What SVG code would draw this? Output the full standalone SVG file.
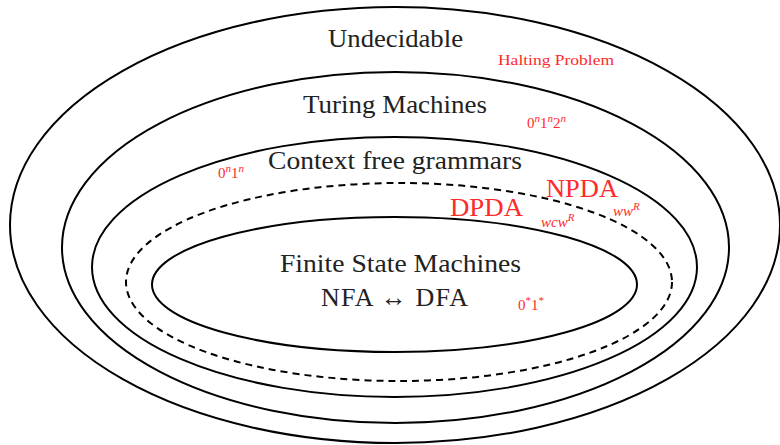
<svg xmlns="http://www.w3.org/2000/svg" width="780" height="445" viewBox="0 0 780 445">
<style>
.e{fill:none;stroke:#000;stroke-width:2}
.d{fill:none;stroke:#000;stroke-width:2;stroke-dasharray:7,5}
.t{font-family:"Liberation Serif","DejaVu Serif",serif;fill:#222;font-size:26px}
.r{font-family:"Liberation Serif","DejaVu Serif",serif;fill:#ff2a2a}
.i{font-style:italic}
</style>
<rect width="780" height="445" fill="#fff"/>
<g id="undecidable">
<ellipse class="e" cx="395" cy="225" rx="385" ry="218"/>
<text class="t" x="328" y="47" textLength="135" lengthAdjust="spacingAndGlyphs">Undecidable</text>
<text class="r" x="498" y="65" font-size="14" textLength="116" lengthAdjust="spacingAndGlyphs">Halting Problem</text>
</g>
<g id="turing">
<ellipse class="e" cx="395.5" cy="247.5" rx="333.5" ry="175.5"/>
<text class="t" x="303" y="113" textLength="184" lengthAdjust="spacingAndGlyphs">Turing Machines</text>
<text class="r" x="527" y="128" font-size="15">0<tspan class="i" dy="-6" font-size="11">n</tspan><tspan dy="6">1</tspan><tspan class="i" dy="-6" font-size="11">n</tspan><tspan dy="6">2</tspan><tspan class="i" dy="-6" font-size="11">n</tspan></text>
</g>
<g id="cfg">
<ellipse class="e" cx="394.5" cy="267" rx="302.5" ry="130"/>
<text class="t" x="268" y="169" textLength="254" lengthAdjust="spacingAndGlyphs">Context free grammars</text>
<text class="r" x="218" y="178" font-size="15">0<tspan class="i" dy="-6" font-size="11">n</tspan><tspan dy="6">1</tspan><tspan class="i" dy="-6" font-size="11">n</tspan></text>
<text class="r" x="546" y="197" font-size="26" textLength="72" lengthAdjust="spacingAndGlyphs">NPDA</text>
<text class="r" x="613" y="216" font-size="15"><tspan class="i">ww</tspan><tspan class="i" dy="-6" font-size="11">R</tspan></text>
</g>
<g id="dpda">
<ellipse class="d" cx="399" cy="282" rx="273" ry="99"/>
<text class="r" x="450" y="216" font-size="26" textLength="73" lengthAdjust="spacingAndGlyphs">DPDA</text>
<text class="r" x="541" y="227" font-size="15"><tspan class="i">wcw</tspan><tspan class="i" dy="-6" font-size="11">R</tspan></text>
</g>
<g id="fsm">
<ellipse class="e" cx="394.5" cy="284.5" rx="242.5" ry="67.5"/>
<text class="t" x="280" y="272" textLength="241" lengthAdjust="spacingAndGlyphs">Finite State Machines</text>
<text class="t" x="321" y="306" textLength="147" lengthAdjust="spacing">NFA ↔ DFA</text>
<text class="r" x="518" y="310" font-size="15">0<tspan dy="-6" font-size="11">*</tspan><tspan dy="6">1</tspan><tspan dy="-6" font-size="11">*</tspan></text>
</g>
<g id="connectors"></g>
</svg>
